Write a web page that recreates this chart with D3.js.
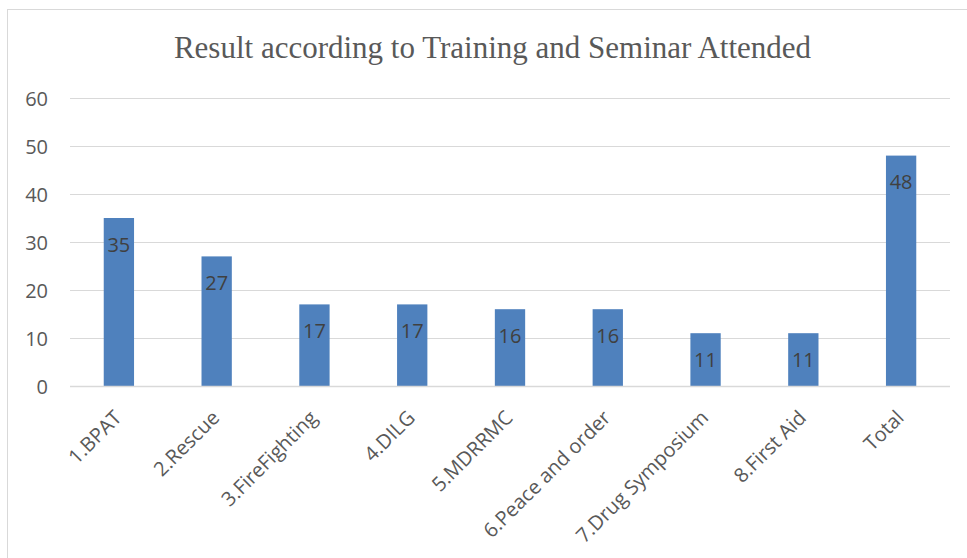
<!DOCTYPE html>
<html><head><meta charset="utf-8">
<script src="https://cdn.jsdelivr.net/npm/d3@7"></script>
<style>body{margin:0;background:#fff}</style>
</head><body>
<svg id="c" width="967" height="558"></svg>
<script>
const categories = ["1.BPAT","2.Rescue","3.FireFighting","4.DILG","5.MDRRMC","6.Peace and order","7.Drug Symposium","8.First Aid","Total"];
const values = [35,27,17,17,16,16,11,11,48];
const yTicks = [0,10,20,30,40,50,60];
const title = "Result according to Training and Seminar Attended";

const svg = d3.select("#c");
svg.append("rect").attr("x",7.5).attr("y",9.5).attr("width",1000).attr("height",600)
  .attr("fill","#fff").attr("stroke","#D9D9D9").attr("stroke-width",1);

const x = d3.scaleBand().domain(categories).range([70,950]).paddingInner(0.69).paddingOuter(0.345);
const y = d3.scaleLinear().domain([0,60]).range([386,98]);

const grid = svg.append("g");
grid.selectAll("line").data(yTicks.filter(d=>d>0)).join("line")
  .attr("x1",70).attr("x2",950).attr("y1",d=>Math.round(y(d))+0.5).attr("y2",d=>Math.round(y(d))+0.5)
  .attr("stroke","#D9D9D9").attr("stroke-width",1);

svg.append("g").selectAll("rect").data(values).join("rect")
  .attr("x",(d,i)=>x(categories[i])).attr("width",x.bandwidth())
  .attr("y",d=>y(d)).attr("height",d=>y(0)-y(d)).attr("fill","#4F81BD");

svg.append("line").attr("x1",70).attr("x2",950).attr("y1",386.5).attr("y2",386.5)
  .attr("stroke","#D9D9D9").attr("stroke-width",1.5);

const yAxis = d3.axisLeft(y).tickValues(yTicks).tickSize(0).tickPadding(0);
const ga = svg.append("g").attr("transform","translate(48,0)").call(yAxis);
ga.select(".domain").remove();
ga.selectAll("text").attr("font-family","'Open Sans', sans-serif").attr("font-size",20).attr("fill","#595959").attr("dy","0.35em");

const xAxis = d3.axisBottom(x).tickSize(0).tickPadding(0);
const gx = svg.append("g").attr("transform","translate(0,386)").call(xAxis);
gx.select(".domain").remove();
gx.selectAll("text").attr("font-family","'Open Sans', sans-serif").attr("font-size",20).attr("fill","#595959")
  .attr("text-anchor","end").attr("dy",null).attr("y",0)
  .attr("transform","translate(4,33) rotate(-45)");

svg.append("g").selectAll("text").data(values).join("text")
  .attr("x",(d,i)=>x(categories[i])+x.bandwidth()/2).attr("y",d=>y(d)+26.5)
  .attr("text-anchor","middle").attr("dy","0.35em")
  .attr("font-family","'Open Sans', sans-serif").attr("font-size",20).attr("fill","#404040")
  .text(d=>d);

svg.append("text").attr("x",492.5).attr("y",58).attr("text-anchor","middle")
  .attr("font-family","'Liberation Serif', 'Times New Roman', serif").attr("font-size",31).attr("fill","#595959")
  .text(title);
</script>
</body></html>
